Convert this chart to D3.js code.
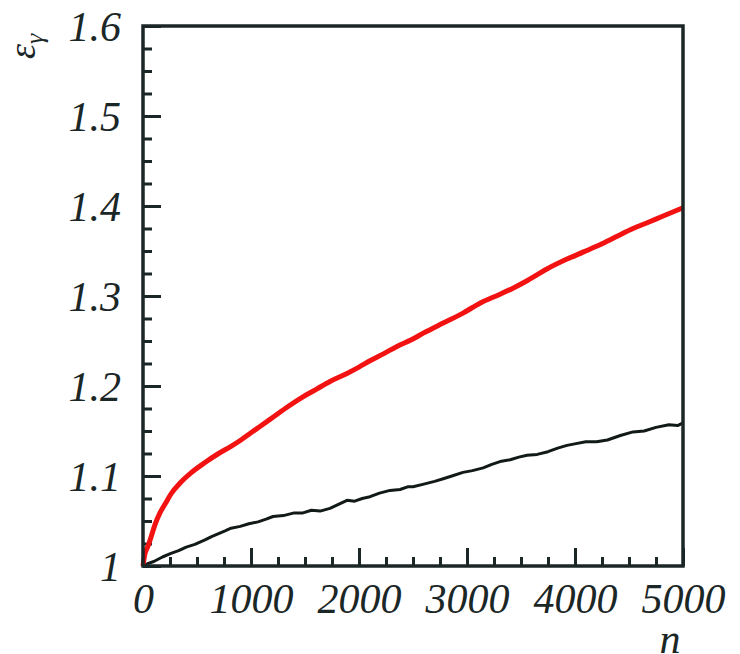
<!DOCTYPE html>
<html>
<head>
<meta charset="utf-8">
<script src="https://d3js.org/d3.v7.min.js"></script>
<style>
  body { margin: 0; background: #fff; }
  svg text { font-family: "Liberation Serif", "DejaVu Serif", serif; font-style: italic; fill: #1b2626; }
</style>
</head>
<body>
<div id="main"></div>
<script>
// values
var nRed = [0, 15, 46, 74, 111, 157, 210, 259, 350, 450, 574, 700, 815, 907, 1000, 1083, 1200, 1340, 1481, 1600, 1731, 1889, 2000, 2102, 2230, 2352, 2480, 2600, 2780, 2963, 3120, 3306, 3430, 3556, 3740, 3926, 4080, 4250, 4400, 4537, 4680, 4800, 4900, 5000];
var vRed = [1.000, 1.012, 1.022, 1.032, 1.046, 1.059, 1.070, 1.080, 1.093, 1.104, 1.115, 1.125, 1.133, 1.140, 1.148, 1.155, 1.165, 1.177, 1.188, 1.196, 1.205, 1.214, 1.221, 1.228, 1.236, 1.244, 1.251, 1.259, 1.270, 1.281, 1.292, 1.302, 1.309, 1.317, 1.330, 1.341, 1.349, 1.358, 1.367, 1.375, 1.382, 1.388, 1.393, 1.398];

var nBlack = [0, 50, 100, 180, 259, 330, 400, 480, 574, 640, 700, 760, 815, 900, 980, 1065, 1140, 1204, 1300, 1400, 1481, 1560, 1640, 1731, 1800, 1889, 1960, 2030, 2102, 2190, 2287, 2380, 2450, 2500, 2600, 2700, 2780, 2860, 2963, 3050, 3150, 3230, 3306, 3400, 3480, 3556, 3650, 3750, 3840, 3926, 4010, 4100, 4200, 4300, 4420, 4537, 4640, 4750, 4870, 4950, 5000];
var vBlack = [1.000, 1.003, 1.005, 1.010, 1.014, 1.017, 1.021, 1.024, 1.029, 1.033, 1.036, 1.039, 1.042, 1.044, 1.047, 1.049, 1.052, 1.055, 1.056, 1.059, 1.059, 1.062, 1.061, 1.064, 1.068, 1.073, 1.072, 1.075, 1.077, 1.081, 1.084, 1.085, 1.088, 1.088, 1.091, 1.094, 1.097, 1.100, 1.104, 1.106, 1.109, 1.113, 1.116, 1.118, 1.121, 1.123, 1.124, 1.127, 1.131, 1.134, 1.136, 1.138, 1.138, 1.140, 1.145, 1.149, 1.150, 1.154, 1.157, 1.156, 1.159];

var xMajor = [0, 1000, 2000, 3000, 4000, 5000];
var yMajor = [1, 1.1, 1.2, 1.3, 1.4, 1.5, 1.6];

// layout (plot box in pixels)
var W = 740, H = 654,
    pLeft = 143, pRight = 683, pTop = 26, pBottom = 566,
    ink = '#1b2626';

var svg = d3.select('#main')
  .append('svg')
  .attr('width', W)
  .attr('height', H);

var x = d3.scaleLinear().domain([0, 5000]).range([pLeft, pRight]);
var y = d3.scaleLinear().domain([1, 1.6]).range([pBottom, pTop]);

var xMinor = d3.range(0, 5001, 250).filter(function(d) { return d % 1000 !== 0; });
var yMinor = d3.range(0, 25).map(function(i) { return 1 + i * 0.025; })
  .filter(function(d, i) { return i % 4 !== 0; });

function styleAxis(g) {
  g.select('.domain').remove();
  g.selectAll('line').attr('stroke', ink).attr('stroke-width', 3);
}

// x axis: major + minor ticks pointing inward
svg.append('g')
  .attr('transform', 'translate(0,' + pBottom + ')')
  .call(d3.axisBottom(x).tickValues(xMinor).tickSize(-9).tickFormat(''))
  .call(styleAxis);

var gx = svg.append('g')
  .attr('transform', 'translate(0,' + pBottom + ')')
  .call(d3.axisBottom(x).tickValues(xMajor).tickSize(-18).tickFormat(d3.format('d')))
  .call(styleAxis);
gx.selectAll('text')
  .attr('y', 47).attr('dy', null)
  .attr('font-size', 42).attr('fill', ink)
  .style('font-family', null);

// y axis
svg.append('g')
  .attr('transform', 'translate(' + pLeft + ',0)')
  .call(d3.axisLeft(y).tickValues(yMinor).tickSize(-9).tickFormat(''))
  .call(styleAxis);

var gy = svg.append('g')
  .attr('transform', 'translate(' + pLeft + ',0)')
  .call(d3.axisLeft(y).tickValues(yMajor).tickSize(-18).tickFormat(function(d) { return d === 1 ? '1' : d3.format('.1f')(d); }))
  .call(styleAxis);
gy.selectAll('text')
  .attr('x', -22).attr('dy', 14)
  .attr('font-size', 42).attr('fill', ink)
  .style('font-family', null);

// curves
var line = d3.line()
  .x(function(d) { return x(d[0]); })
  .y(function(d) { return y(d[1]); });

svg.append('path')
  .datum(d3.zip(nBlack, vBlack))
  .attr('d', line)
  .attr('fill', 'none')
  .attr('stroke', '#111a18')
  .attr('stroke-width', 3)
  .attr('stroke-linejoin', 'round');

svg.append('path')
  .datum(d3.zip(nRed, vRed))
  .attr('d', line.curve(d3.curveMonotoneX))
  .attr('fill', 'none')
  .attr('stroke', '#f21212')
  .attr('stroke-width', 5)
  .attr('stroke-linejoin', 'round');

// frame
svg.append('rect')
  .attr('x', pLeft).attr('y', pTop)
  .attr('width', pRight - pLeft).attr('height', pBottom - pTop)
  .attr('fill', 'none')
  .attr('stroke', ink)
  .attr('stroke-width', 3.5);

// axis titles
var yt = svg.append('text')
  .attr('transform', 'translate(35,59) rotate(-90)')
  .attr('font-size', 38);
yt.append('tspan').text('ε');
yt.append('tspan').attr('font-size', 26).attr('dy', 8).text('γ');

svg.append('text')
  .attr('x', 670).attr('y', 653)
  .attr('text-anchor', 'middle')
  .attr('font-size', 42)
  .text('n');
</script>
</body>
</html>
